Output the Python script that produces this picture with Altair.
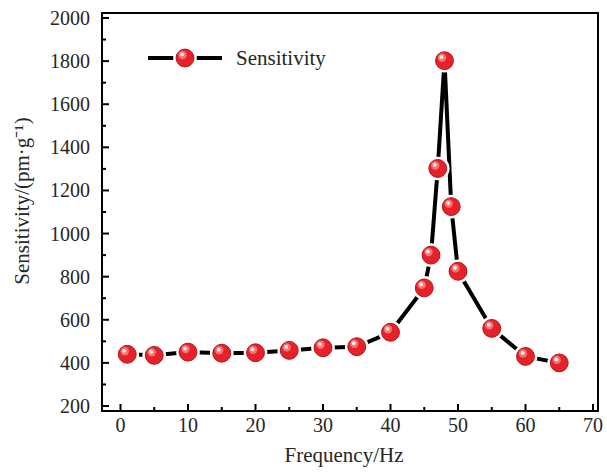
import altair as alt
import pandas as pd

freq = [1, 5, 10, 15, 20, 25, 30, 35, 40, 45, 46, 47, 48, 49, 50, 55, 60, 65]
sens = [440, 435, 450, 445, 447, 458, 470, 475, 542, 748, 900, 1302, 1802, 1125, 825, 560, 430, 400]

x_major = [0, 10, 20, 30, 40, 50, 60, 70]
x_minor = [5, 15, 25, 35, 45, 55, 65]
y_major = [200, 400, 600, 800, 1000, 1200, 1400, 1600, 1800, 2000]
y_minor = [300, 500, 700, 900, 1100, 1300, 1500, 1700, 1900]
x_title = ["Frequency/Hz"]
y_title = ["Sensitivity/(pm·g⁻¹)"]
legend_label = ["Sensitivity"]

W, H = 496, 398
FONT = "Liberation Serif"
TXT = "#262626"

df = pd.DataFrame({"f": freq, "s": sens})
xs = alt.Scale(domain=[-2, 70], nice=False, zero=False)
ys = alt.Scale(domain=[200, 2000], nice=False, zero=False)

X = lambda f: alt.X(f, scale=xs, axis=None)
Y = lambda f: alt.Y(f, scale=ys, axis=None)


def sphere_layers(chart, enc):
    halo = chart.mark_point(shape="circle", filled=True, color="white", opacity=1, size=560).encode(**enc)
    body = chart.mark_point(shape="circle", filled=True, fill="#e5222a", stroke="#b81418",
                            strokeWidth=1, opacity=1, size=320).encode(**enc)
    glow = chart.mark_point(shape="circle", filled=True, color="#ff8c8c", opacity=0.75, size=70,
                            xOffset=-2.5, yOffset=-3).encode(**enc)
    spec = chart.mark_point(shape="circle", filled=True, color="#ffffff", opacity=0.95, size=14,
                            xOffset=-3, yOffset=-3.5).encode(**enc)
    return [halo, body, glow, spec]


base = alt.Chart(df)
line = base.mark_line(color="black", strokeWidth=4).encode(x=X("f:Q"), y=Y("s:Q"))
pts = sphere_layers(base, {"x": X("f:Q"), "y": Y("s:Q")})

# inward ticks as filled thin bars
xmajdf = pd.DataFrame({"xv": x_major})
ymajdf = pd.DataFrame({"yv": y_major})
xmaj = alt.Chart(xmajdf).mark_bar(color="black", width=2, opacity=1).encode(
    x=X("xv:Q"), y=alt.value(H), y2=alt.value(H - 7))
xmin = alt.Chart(pd.DataFrame({"xm": x_minor})).mark_bar(color="black", width=2, opacity=1).encode(
    x=X("xm:Q"), y=alt.value(H), y2=alt.value(H - 4))
ymaj = alt.Chart(ymajdf).mark_bar(color="black", height=2, opacity=1, orient="horizontal").encode(
    y=Y("yv:Q"), x=alt.value(0), x2=alt.value(7))
ymin = alt.Chart(pd.DataFrame({"ym": y_minor})).mark_bar(color="black", height=2, opacity=1, orient="horizontal").encode(
    y=Y("ym:Q"), x=alt.value(0), x2=alt.value(4))

# frame as four filled strips
fdf = pd.DataFrame({"k": [0]})
fl = alt.Chart(fdf).mark_rect(color="black", opacity=1).encode(
    x=alt.value(-1), x2=alt.value(1), y=alt.value(-1), y2=alt.value(H + 1))
fr = alt.Chart(fdf).mark_rect(color="black", opacity=1).encode(
    x=alt.value(W - 1), x2=alt.value(W + 1), y=alt.value(-1), y2=alt.value(H + 1))
ft = alt.Chart(fdf).mark_rect(color="black", opacity=1).encode(
    x=alt.value(-1), x2=alt.value(W + 1), y=alt.value(-1), y2=alt.value(1))
fb = alt.Chart(fdf).mark_rect(color="black", opacity=1).encode(
    x=alt.value(-1), x2=alt.value(W + 1), y=alt.value(H - 1), y2=alt.value(H + 1))

# tick labels and titles
xlab = alt.Chart(xmajdf).mark_text(font=FONT, fontSize=20, align="center", baseline="alphabetic", color=TXT).encode(
    x=X("xv:Q"), y=alt.value(H + 21), text=alt.Text("xv:Q", format="d"))
ylab = alt.Chart(ymajdf).mark_text(font=FONT, fontSize=20, align="right", baseline="middle", color=TXT, dy=1).encode(
    y=Y("yv:Q"), x=alt.value(-12), text=alt.Text("yv:Q", format="d"))
xtit = alt.Chart(pd.DataFrame({"t": x_title})).mark_text(font=FONT, fontSize=21, align="center", baseline="alphabetic", color=TXT).encode(
    x=alt.value(W / 2 - 6), y=alt.value(H + 51), text="t:N")
ytit = alt.Chart(pd.DataFrame({"t": y_title})).mark_text(font=FONT, fontSize=21, align="center", baseline="middle", color=TXT, angle=270).encode(
    x=alt.value(-79), y=alt.value(188), text="t:N")

# legend
ldf = pd.DataFrame({"label": legend_label})
lbase = alt.Chart(ldf)
lline = lbase.mark_rule(color="black", strokeWidth=4).encode(
    x=alt.value(46), x2=alt.value(120), y=alt.value(45))
lpts = sphere_layers(lbase, {"x": alt.value(83), "y": alt.value(45)})
ltext = lbase.mark_text(font=FONT, fontSize=21, align="left", baseline="middle", color=TXT).encode(
    x=alt.value(134), y=alt.value(46), text="label:N")

chart = alt.layer(
    line, *pts, xmaj, xmin, ymaj, ymin, fl, fr, ft, fb,
    xlab, ylab, xtit, ytit, lline, *lpts, ltext
).properties(
    width=W, height=H,
    autosize=alt.AutoSizeParams(type="none"),
    padding={"left": 102, "top": 13, "right": 9, "bottom": 62},
    background="white",
).configure_view(stroke="black", strokeWidth=2)

chart.save("out.html", embed_options={"renderer": "svg", "actions": False})
